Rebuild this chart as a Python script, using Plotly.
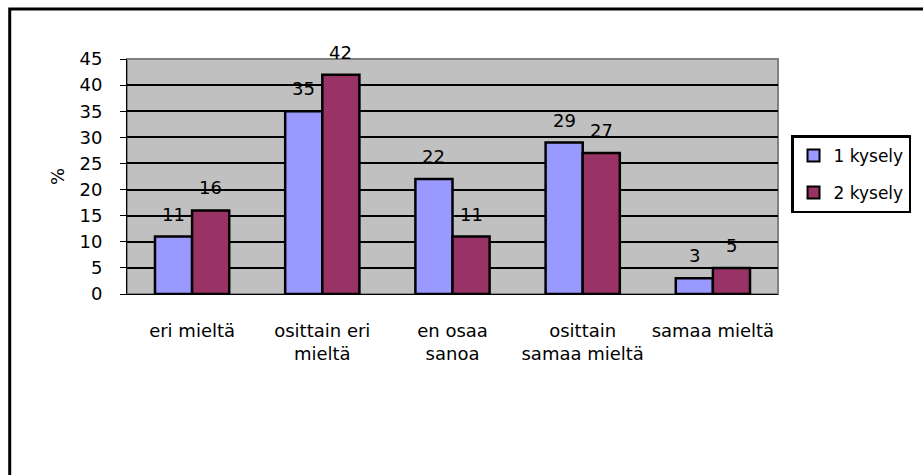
import plotly.graph_objects as go

# Survey answers (percent) for two rounds of the questionnaire
categories = ["eri mieltä", "osittain eri<br>mieltä", "en osaa<br>sanoa",
              "osittain<br>samaa mieltä", "samaa mieltä"]
kysely1 = [11, 35, 22, 29, 3]
kysely2 = [16, 42, 11, 27, 5]
series_names = ["1 kysely", "2 kysely"]
series_colors = ["#9999FF", "#993366"]

FONT = "DejaVu Sans, Liberation Sans, Arial, sans-serif"
BARGAP = 0.43

fig = go.Figure()
for name, vals, col in zip(series_names, [kysely1, kysely2], series_colors):
    fig.add_trace(go.Bar(
        x=list(range(len(categories))), y=vals, name=name, legendgroup=name,
        marker=dict(color=col, line=dict(color="black", width=2.5)),
    ))

# value labels above each bar
half = (1 - BARGAP) / 4
for k, vals in enumerate([kysely1, kysely2]):
    off = -half if k == 0 else half
    for i, v in enumerate(vals):
        fig.add_annotation(x=i + off, y=v, xref="x", yref="y", text=str(v),
                           showarrow=False, yanchor="bottom", yshift=10,
                           font=dict(family=FONT, size=18, color="black"))

L, R, T, B = 127, 141, 59, 181
W, H = 923, 475
pw, ph = W - L - R, H - T - B

# outer chart frame
fig.add_shape(type="rect", xref="paper", yref="paper", layer="above",
              x0=(9 - L) / pw, x1=(940 - L) / pw,
              y0=(ph + T - 490) / ph, y1=(ph + T - 9) / ph,
              line=dict(color="black", width=3))
# plot-area border
fig.add_shape(type="rect", xref="paper", yref="paper", layer="between",
              x0=0, x1=1, y0=0, y1=1, line=dict(color="#808080", width=2))

fig.update_layout(
    width=W, height=H,
    margin=dict(l=L, r=R, t=T, b=B),
    paper_bgcolor="white", plot_bgcolor="#C0C0C0",
    barmode="group", bargap=BARGAP, bargroupgap=0,
    font=dict(family=FONT, size=18, color="black"),
    showlegend=True,
    legend=dict(x=1.02, xanchor="left", y=0.675, yanchor="top",
                bordercolor="black", borderwidth=2.5, bgcolor="white",
                font=dict(family=FONT, size=17), tracegroupgap=12,
                itemsizing="constant"),
    xaxis=dict(
        tickmode="array", tickvals=list(range(len(categories))), ticktext=categories,
        range=[-0.5, len(categories) - 0.5],
        showline=True, linecolor="black", linewidth=1,
        ticks="inside", tickson="boundaries", ticklen=6, tickcolor="black",
        showgrid=False, zeroline=False, ticklabelstandoff=20,
        tickfont=dict(family=FONT, size=18),
    ),
    yaxis=dict(
        range=[0, 45], dtick=5, tick0=0,
        showline=True, linecolor="black", linewidth=1,
        ticks="outside", ticklen=6, tickcolor="black",
        showgrid=True, gridcolor="black", gridwidth=2, zeroline=False,
        ticklabelstandoff=14, tickfont=dict(family=FONT, size=18),
        title=dict(text="%", standoff=10, font=dict(family=FONT, size=18)),
    ),
)

fig.write_html("out.html")
